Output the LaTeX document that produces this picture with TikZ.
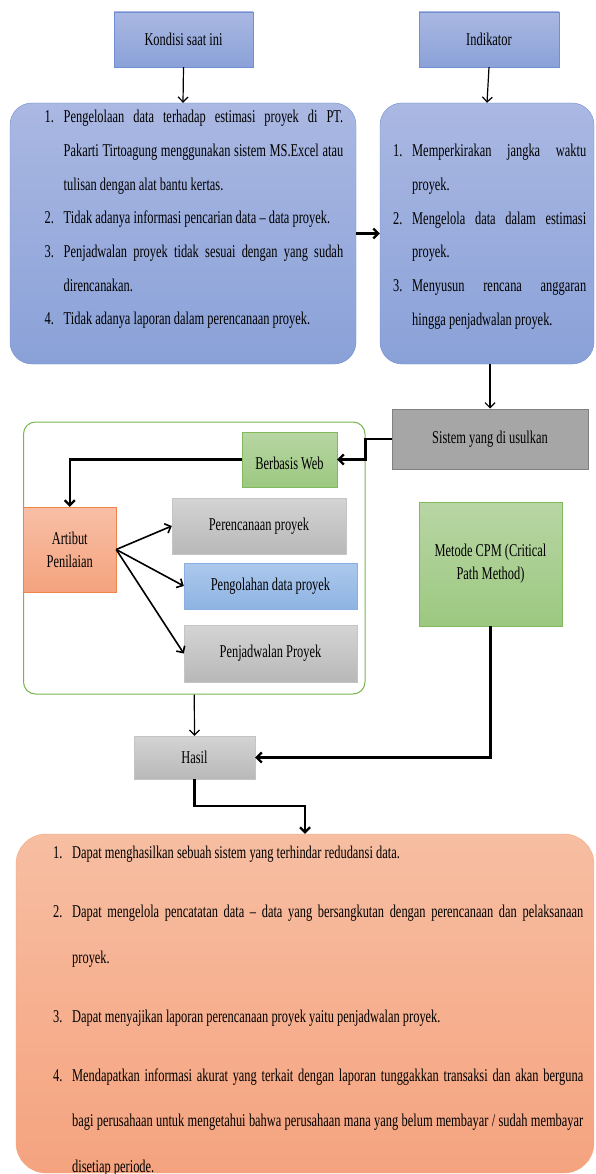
\documentclass[tikz,border=0pt]{standalone}
\usepackage{fontspec}
\setmainfont{Liberation Serif}[FakeStretch=0.69]
\usepackage{tikz}
\usetikzlibrary{arrows.meta, calc, positioning}
\usepackage{xcolor}

\definecolor{blueTop}{RGB}{170,184,226}
\definecolor{blueBot}{RGB}{138,161,216}
\definecolor{blueLine}{RGB}{112,142,210}
\definecolor{grayTop}{RGB}{212,212,212}
\definecolor{grayBot}{RGB}{184,184,184}
\definecolor{grayLine}{RGB}{196,196,196}
\definecolor{darkFill}{RGB}{166,166,166}
\definecolor{darkLine}{RGB}{128,128,128}
\definecolor{greenTop}{RGB}{184,214,164}
\definecolor{greenBot}{RGB}{156,200,128}
\definecolor{greenLine}{RGB}{128,186,92}
\definecolor{frameGreen}{RGB}{122,182,80}
\definecolor{orangeTop}{RGB}{248,191,166}
\definecolor{orangeBot}{RGB}{244,163,126}
\definecolor{orangeLine}{RGB}{240,132,72}
\definecolor{skyTop}{RGB}{172,200,236}
\definecolor{skyBot}{RGB}{142,180,227}
\definecolor{skyLine}{RGB}{138,176,226}
\definecolor{peachTop}{RGB}{247,190,162}
\definecolor{peachBot}{RGB}{245,163,127}
\definecolor{peachLine}{RGB}{244,168,128}

\newcommand{\boxfont}{\fontsize{18}{23}\selectfont}
\newcommand{\poin}[2]{\noindent\hangindent=19pt\hangafter=1\makebox[19pt][l]{\rule{0pt}{13pt}#1.}#2\par}

\tikzset{
  bluebox/.style={draw=blueLine, top color=blueTop, bottom color=blueBot, font=\boxfont, align=center},
  graybox/.style={draw=grayLine, top color=grayTop, bottom color=grayBot, font=\boxfont, align=center},
  darkbox/.style={draw=darkLine, fill=darkFill, line width=1pt, font=\boxfont, align=center},
  greenbox/.style={draw=greenLine, top color=greenTop, bottom color=greenBot, font=\boxfont, align=center},
  orangebox/.style={draw=orangeLine, top color=orangeTop, bottom color=orangeBot, font=\boxfont, align=center},
  skybox/.style={draw=skyLine, top color=skyTop, bottom color=skyBot, font=\boxfont, align=center},
  peachbox/.style={draw=peachLine, top color=peachTop, bottom color=peachBot, rounded corners=30pt},
  greenframe/.style={draw=frameGreen, fill=white, line width=1pt, rounded corners=12pt},
  listtext/.style={anchor=north west, inner sep=0pt, align=justify},
  arrowthin/.style={-{Straight Barb[length=5pt,width=10pt]}, line width=1.2pt},
  arrowmid/.style={-{Straight Barb[length=5pt,width=10pt]}, line width=1.6pt},
  arrowthick/.style={-{Straight Barb[length=5pt,width=10pt]}, line width=2.2pt}
}

\begin{document}
\begin{tikzpicture}[x=1pt, y=-1pt]

\useasboundingbox (0,0) rectangle (595,1174);

% Top boxes
\node[bluebox, minimum width=139pt, minimum height=55pt] (kondisi) at (183.5,39.5) {Kondisi saat ini};
\node[bluebox, minimum width=140pt, minimum height=55pt] (indikator) at (489,39.5) {Indikator};

% The two lists
\node[bluebox, rounded corners=22pt, minimum width=346pt, minimum height=261pt] (kondisiList) at (183,233.5) {};
\node[bluebox, rounded corners=22pt, minimum width=214pt, minimum height=261pt] (indikatorList) at (487,233.5) {};

\node[listtext, text width=298.5pt, font=\fontsize{18}{33.7}\selectfont] (kondisiText) at (44.5,109.5) {%
\hyphenpenalty=10000 \tolerance=10000 \setlength{\parskip}{0pt}%
\poin{1}{Pengelolaan data terhadap estimasi proyek di PT.\linebreak Pakarti Tirtoagung menggunakan sistem MS.Excel atau\linebreak tulisan dengan alat bantu kertas.}
\poin{2}{Tidak adanya informasi pencarian data – data proyek.}
\poin{3}{Penjadwalan proyek tidak sesuai dengan yang sudah\linebreak direncanakan.}
\poin{4}{Tidak adanya laporan dalam perencanaan proyek.}};

\node[listtext, text width=193pt, font=\fontsize{18}{33.7}\selectfont] (indikatorText) at (393,143.5) {%
\hyphenpenalty=10000 \tolerance=10000 \setlength{\parskip}{0pt}%
\poin{1}{Memperkirakan jangka waktu\linebreak proyek.}
\poin{2}{Mengelola data dalam estimasi\linebreak proyek.}
\poin{3}{Menyusun rencana anggaran\linebreak hingga penjadwalan proyek.}};

% Proposed system
\node[darkbox, minimum width=196pt, minimum height=60pt] (sistem) at (490,439) {Sistem yang di usulkan};
\node[greenframe, minimum width=341.5pt, minimum height=272pt] (usulan) at (194.25,558) {};
\node[greenbox, minimum width=95pt, minimum height=55pt, text height=20pt] (berbasis) at (289.5,459.5) {Berbasis Web};
\node[orangebox, minimum width=92.5pt, minimum height=85pt] (artibut) at (69.75,549.5) {Artibut\\Penilaian};
\node[graybox, minimum width=174pt, minimum height=56pt] (perencanaan) at (259,526) {Perencanaan proyek};
\node[skybox, minimum width=173pt, minimum height=46pt] (pengolahan) at (270.5,586) {Pengolahan data proyek};
\node[graybox, minimum width=173pt, minimum height=57pt] (penjadwalan) at (270.5,653.5) {Penjadwalan Proyek};
\node[greenbox, minimum width=143pt, minimum height=124pt] (metode) at (490.5,564) {Metode CPM (Critical\\Path Method)};
\node[graybox, minimum width=121pt, minimum height=43pt] (hasil) at (194.5,757.5) {Hasil};

% Result list
\node[peachbox, minimum width=578pt, minimum height=339pt] (hasilList) at (305,1003.5) {};
\node[listtext, text width=530pt, font=\fontsize{18}{45.5}\selectfont] (hasilText) at (53,845.5) {%
\hyphenpenalty=10000 \tolerance=10000 \setlength{\parskip}{13.5pt}%
\poin{1}{Dapat menghasilkan sebuah sistem yang terhindar redudansi data.}
\poin{2}{Dapat mengelola pencatatan data – data yang bersangkutan dengan perencanaan dan pelaksanaan\linebreak proyek.}
\poin{3}{Dapat menyajikan laporan perencanaan proyek yaitu penjadwalan proyek.}
\poin{4}{Mendapatkan informasi akurat yang terkait dengan laporan tunggakkan transaksi dan akan berguna\linebreak bagi perusahaan untuk mengetahui bahwa perusahaan mana yang belum membayar / sudah membayar\linebreak disetiap periode.}};

% Arrows
\draw[arrowthin] (kondisi.south) -- (kondisiList.north);
\draw[arrowthin] (indikator.south) -- (indikatorList.north);
\draw[arrowthick] (kondisiList.east) -- (indikatorList.west);
\draw[arrowthin] (sistem.north |- indikatorList.south) -- (sistem.north);
\draw[arrowthick] (sistem.west) -- (sistem.west -| usulan.east) |- (berbasis.east);
\draw[arrowthick] (berbasis.west) -| (artibut.north);
\draw[arrowmid] (artibut.east) -- (perencanaan.west);
\draw[arrowmid] (artibut.east) -- (pengolahan.west);
\draw[arrowmid] (artibut.east) -- (penjadwalan.west);
\draw[arrowthin] (usulan.south) -- (hasil.north);
\draw[arrowthick] (metode.south) |- (hasil.east);
\draw[arrowthick] (hasil.south) -- ++(0,27) -| (hasilList.north);

\end{tikzpicture}
\end{document}
